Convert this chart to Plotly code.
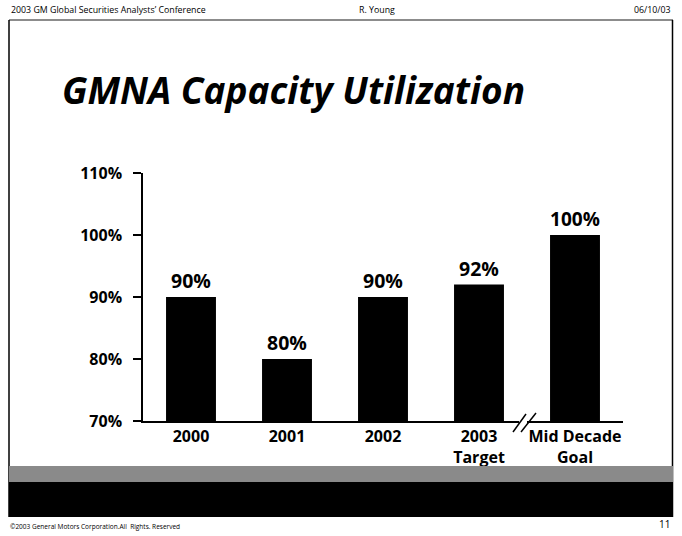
import plotly.graph_objects as go

categories = ["2000", "2001", "2002", "2003<br>Target", "Mid Decade<br>Goal"]
values = [90, 80, 90, 92, 100]
value_labels = ["90%", "80%", "90%", "92%", "100%"]
y_ticks = [70, 80, 90, 100, 110]
y_tick_labels = ["70%", "80%", "90%", "100%", "110%"]

W, H = 682, 536
def px(x):
    return x / W
def py(y):
    return 1 - y / H

FONT = "Open Sans"

fig = go.Figure()
fig.add_trace(go.Bar(
    x=list(range(len(categories))), y=values, width=0.52,
    marker=dict(color="black", line=dict(width=0)),
    text=value_labels, textposition="outside", cliponaxis=False,
    textfont=dict(family=FONT, size=19.5, color="black", weight="bold"),
    hoverinfo="skip",
))

fig.update_layout(
    width=W, height=H,
    margin=dict(l=0, r=0, t=0, b=0),
    paper_bgcolor="white", plot_bgcolor="white",
    showlegend=False,
    xaxis=dict(domain=[px(143), px(623)], range=[-0.5, 4.5],
               tickvals=list(range(len(categories))), ticktext=categories,
               tickfont=dict(family=FONT, size=16, color="black", weight="bold"),
               showgrid=False, zeroline=False, showline=True, linecolor="black", linewidth=2,
               ticks="", automargin=False, fixedrange=True),
    yaxis=dict(domain=[py(421), py(173)], range=[70, 110],
               tickvals=y_ticks, ticktext=y_tick_labels,
               tickfont=dict(family=FONT, size=16, color="black", weight="bold"),
               showgrid=False, zeroline=False, showline=True, linecolor="black", linewidth=1.5,
               ticks="outside", ticklen=8, tickwidth=1.5, tickcolor="black",
               ticklabelstandoff=8,
               automargin=False, fixedrange=True),
)

shapes = [
    # frame
    dict(type="line", xref="paper", yref="paper", x0=px(9), x1=px(673), y0=py(20), y1=py(20), line=dict(color="#666", width=1.5)),
    dict(type="line", xref="paper", yref="paper", x0=px(9), x1=px(9), y0=py(20), y1=py(517), line=dict(color="black", width=1.5)),
    dict(type="line", xref="paper", yref="paper", x0=px(672.5), x1=px(672.5), y0=py(20), y1=py(517), line=dict(color="black", width=1.5)),
    # bands
    dict(type="rect", xref="paper", yref="paper", x0=px(9), x1=px(673), y0=py(482), y1=py(466), fillcolor="#8a8a8a", line=dict(width=0), layer="above"),
    dict(type="rect", xref="paper", yref="paper", x0=px(9), x1=px(673), y0=py(517), y1=py(482), fillcolor="black", line=dict(width=0), layer="above"),
    # axis break
    dict(type="rect", xref="paper", yref="paper", x0=px(519), x1=px(527), y0=py(424), y1=py(418), fillcolor="white", line=dict(width=0), layer="above"),
    dict(type="line", xref="paper", yref="paper", x0=px(513), x1=px(526), y0=py(432), y1=py(414), line=dict(color="black", width=1.5), layer="above"),
    dict(type="line", xref="paper", yref="paper", x0=px(521), x1=px(536), y0=py(432), y1=py(413), line=dict(color="black", width=1.5), layer="above"),
]
fig.update_layout(shapes=shapes)

annos = [
    dict(text="GMNA Capacity Utilization", x=px(60), y=py(89), xanchor="left", yanchor="middle",
         font=dict(family=FONT, size=37, color="black", weight="bold", style="italic")),
    dict(text="2003 GM Global Securities Analysts\u2019 Conference", x=px(9), y=py(10), xanchor="left", yanchor="middle",
         font=dict(family=FONT, size=8.8, color="black")),
    dict(text="R. Young", x=px(377), y=py(10), xanchor="center", yanchor="middle",
         font=dict(family=FONT, size=8.8, color="black")),
    dict(text="06/10/03", x=px(673), y=py(10), xanchor="right", yanchor="middle",
         font=dict(family=FONT, size=8.8, color="black")),
    dict(text="\u00a92003 General Motors Corporation.All  Rights. Reserved", x=px(8), y=py(526), xanchor="left", yanchor="middle",
         font=dict(family=FONT, size=6.5, color="black")),
    dict(text="11", x=px(672), y=py(524), xanchor="right", yanchor="middle",
         font=dict(family=FONT, size=10, color="black")),
]
for a in annos:
    a.update(xref="paper", yref="paper", showarrow=False)
fig.update_layout(annotations=annos)

fig.write_html("out.html", config={"displayModeBar": False},
               post_script="document.body.style.margin='0';document.body.style.overflow='hidden';")
